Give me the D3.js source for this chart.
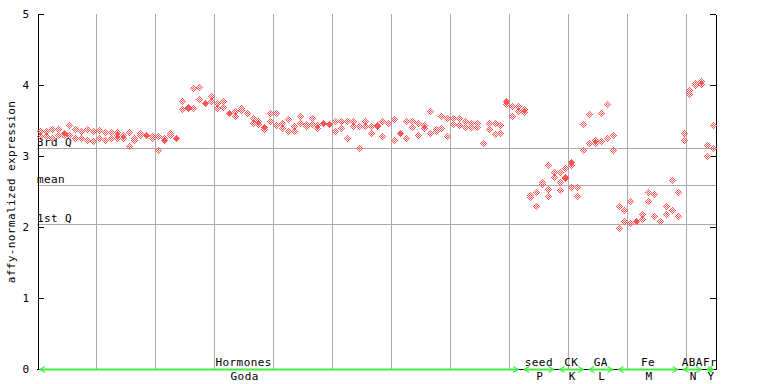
<!DOCTYPE html>
<html><head><meta charset="utf-8">
<script src="https://cdn.jsdelivr.net/npm/d3@7"></script>
<style>
body{margin:0;background:#fff}
svg text{font-family:"DejaVu Sans Mono",monospace;font-size:11px;letter-spacing:0.4px;fill:#000}
</style>
</head><body>
<svg id="chart" width="768" height="384"></svg>
<script>
// ---- data (one entry per sample column) ----
const repA = [3.35,3.35,3.38,3.38,null,3.43,3.38,3.35,3.38,3.35,3.37,3.34,3.34,3.34,3.29,3.34,3.26,3.33,null,3.28,
  3.28,3.26,3.33,null,3.78,3.69,3.96,3.97,null,3.85,3.74,3.77,null,3.64,3.67,3.61,3.53,3.50,null,3.61,
  3.61,3.46,3.52,3.42,3.56,3.45,3.53,3.43,null,null,3.49,3.49,3.50,3.49,3.42,3.49,3.42,3.44,3.50,3.46,
  3.52,null,3.49,3.49,3.46,3.44,3.63,3.38,3.56,3.54,3.53,3.53,3.49,3.46,3.47,3.18,3.46,3.47,3.43,null,
  3.70,3.70,3.66,2.45,2.50,2.63,2.88,2.78,2.78,2.83,2.87,2.56,3.45,3.59,3.23,3.61,3.73,3.29,2.29,2.24,
  2.36,null,2.19,2.50,2.47,2.08,2.29,2.66,2.49,3.32,3.93,4.03,4.05,3.15,3.43];
const repB = [3.28,3.28,3.26,3.29,3.29,3.29,3.26,3.26,3.23,3.21,3.26,3.23,3.26,3.26,3.26,3.14,3.23,3.29,null,3.25,
  3.09,null,3.29,null,3.66,3.67,3.67,3.80,null,3.77,3.67,3.69,null,3.56,3.65,null,3.46,3.45,3.38,3.49,
  3.43,3.40,3.35,3.35,3.46,3.42,3.45,3.40,null,null,3.35,3.40,3.26,3.42,3.11,3.42,3.32,null,3.28,null,
  3.22,null,3.25,3.41,3.29,3.40,3.33,3.35,3.39,3.28,3.45,3.44,3.41,3.41,3.41,null,3.38,3.31,3.33,3.73,
  3.57,3.64,3.62,2.42,2.29,2.60,2.53,2.70,2.63,2.71,2.57,2.43,3.09,3.19,3.18,3.21,3.26,3.08,1.98,2.09,
  2.05,null,2.11,2.36,2.16,null,2.19,2.24,2.16,3.22,3.87,4.00,4.02,3.00,3.11];
const repC = {13:3.29, 86:2.43, 88:2.52, 89:2.69};
const overlapped = {4:3.33, 18:3.30, 21:3.23, 23:3.25, 28:3.75, 32:3.61, 38:3.41, 48:3.46, 49:3.45,
  57:3.42, 61:3.32, 79:3.77, 90:2.91, 101:2.08};
const yTicks = [0,1,2,3,4,5];
const refNames = ["3rd Q","mean","1st Q"];
const refValues = [3.11,2.59,2.04];
const groupNames = ["Hormones","seed","CK","GA","Fe","ABA","Fr"];
const groupSubs = ["Goda","P","K","L","M","N","Y"];
const groupStart = [0,82,88,93,98,109,113];
const groupEnd = [82,88,93,98,109,113,115];
const labelEnd = [70,88,93,98,109,113,115];
const nCols = repA.length;

// ---- layout ----
const svg = d3.select("#chart");
const x = d3.scaleLinear().domain([0,nCols]).range([37,716]);
const y = d3.scaleLinear().domain([0,5]).range([369,14]);
const red = "#ff5555", grid = "#aaaaaa";

// vertical grid
svg.append("g").selectAll("line").data(d3.range(10,nCols,10)).join("line")
  .attr("x1",d=>Math.round(x(d))+0.5).attr("x2",d=>Math.round(x(d))+0.5)
  .attr("y1",y(5)).attr("y2",y(0)).attr("stroke",grid);

// reference lines
svg.append("g").selectAll("line").data(refValues).join("line")
  .attr("x1",x(0)).attr("x2",x(nCols))
  .attr("y1",d=>Math.round(y(d))+0.5).attr("y2",d=>Math.round(y(d))+0.5).attr("stroke",grid);
svg.append("g").selectAll("text").data(refNames).join("text")
  .attr("x",x(0)).attr("y",(d,i)=>Math.round(y(refValues[i]))-2).text(d=>d);

// axes
const left = svg.append("g").attr("transform",`translate(${x(0)+0.5},0)`)
  .call(d3.axisLeft(y).tickValues(yTicks).tickFormat(d3.format("d")).tickSizeInner(-6).tickSizeOuter(0).tickPadding(8));
const right = svg.append("g").attr("transform",`translate(${x(nCols)-0.5},0)`)
  .call(d3.axisRight(y).tickValues(yTicks).tickFormat("").tickSizeInner(-6).tickSizeOuter(0));
[left,right].forEach(g=>{
  g.selectAll("path,line").attr("stroke","#000").attr("shape-rendering","crispEdges");
  g.selectAll("text").attr("font-family","DejaVu Sans Mono").attr("font-size",11).attr("fill","#000");
});
svg.append("line").attr("x1",x(0)).attr("x2",x(nCols)).attr("y1",y(0)+0.5).attr("y2",y(0)+0.5).attr("stroke","#000");

svg.append("text").attr("transform",`translate(15,192) rotate(-90)`).attr("text-anchor","middle")
  .text("affy-normalized expression");

// points
const hollowOff=[], solidOff=[];
for(let dy=-3;dy<=3;dy++)for(let dx=-3;dx<=3;dx++){
  const m=Math.abs(dx)+Math.abs(dy);
  if(m<=3){solidOff.push([dx,dy]); if(m%2===1)hollowOff.push([dx,dy]);}
}
function marker(cx,cy,offs){return offs.map(([dx,dy])=>`M${cx+dx},${cy+dy}h1v1h-1z`).join("");}
const pts=[];
repA.forEach((v,i)=>{if(v!=null)pts.push({i,v,s:false});});
repB.forEach((v,i)=>{if(v!=null)pts.push({i,v,s:false});});
Object.entries(repC).forEach(([i,v])=>pts.push({i:+i,v,s:false}));
Object.entries(overlapped).forEach(([i,v])=>pts.push({i:+i,v,s:true}));
svg.append("g").selectAll("path").data(pts).join("path")
  .attr("d",d=>marker(Math.round(x(d.i+0.5))-0,Math.round(y(d.v)),d.s?solidOff:hollowOff))
  .attr("fill",red).attr("shape-rendering","crispEdges");

// group arrows and labels
const green="#44ee44", gy=Math.round(y(0))+0.5;
groupNames.forEach((name,k)=>{
  const a=x(groupStart[k])+3, b=x(groupEnd[k])-3;
  const g=svg.append("g").attr("stroke",green).attr("fill","none").attr("stroke-width",1.2);
  g.append("line").attr("x1",a).attr("x2",b).attr("y1",gy).attr("y2",gy).attr("stroke-width",2);
  g.append("path").attr("d",`M${a+5},${gy-3}L${a},${gy}L${a+5},${gy+3}`);
  g.append("path").attr("d",`M${b-5},${gy-3}L${b},${gy}L${b-5},${gy+3}`);
  const cx=(x(groupStart[k])+x(labelEnd[k]))/2;
  svg.append("text").attr("x",cx).attr("y",366).attr("text-anchor","middle").text(name);
  svg.append("text").attr("x",cx+1).attr("y",380).attr("text-anchor","middle").text(groupSubs[k]);
});
</script>
</body></html>
